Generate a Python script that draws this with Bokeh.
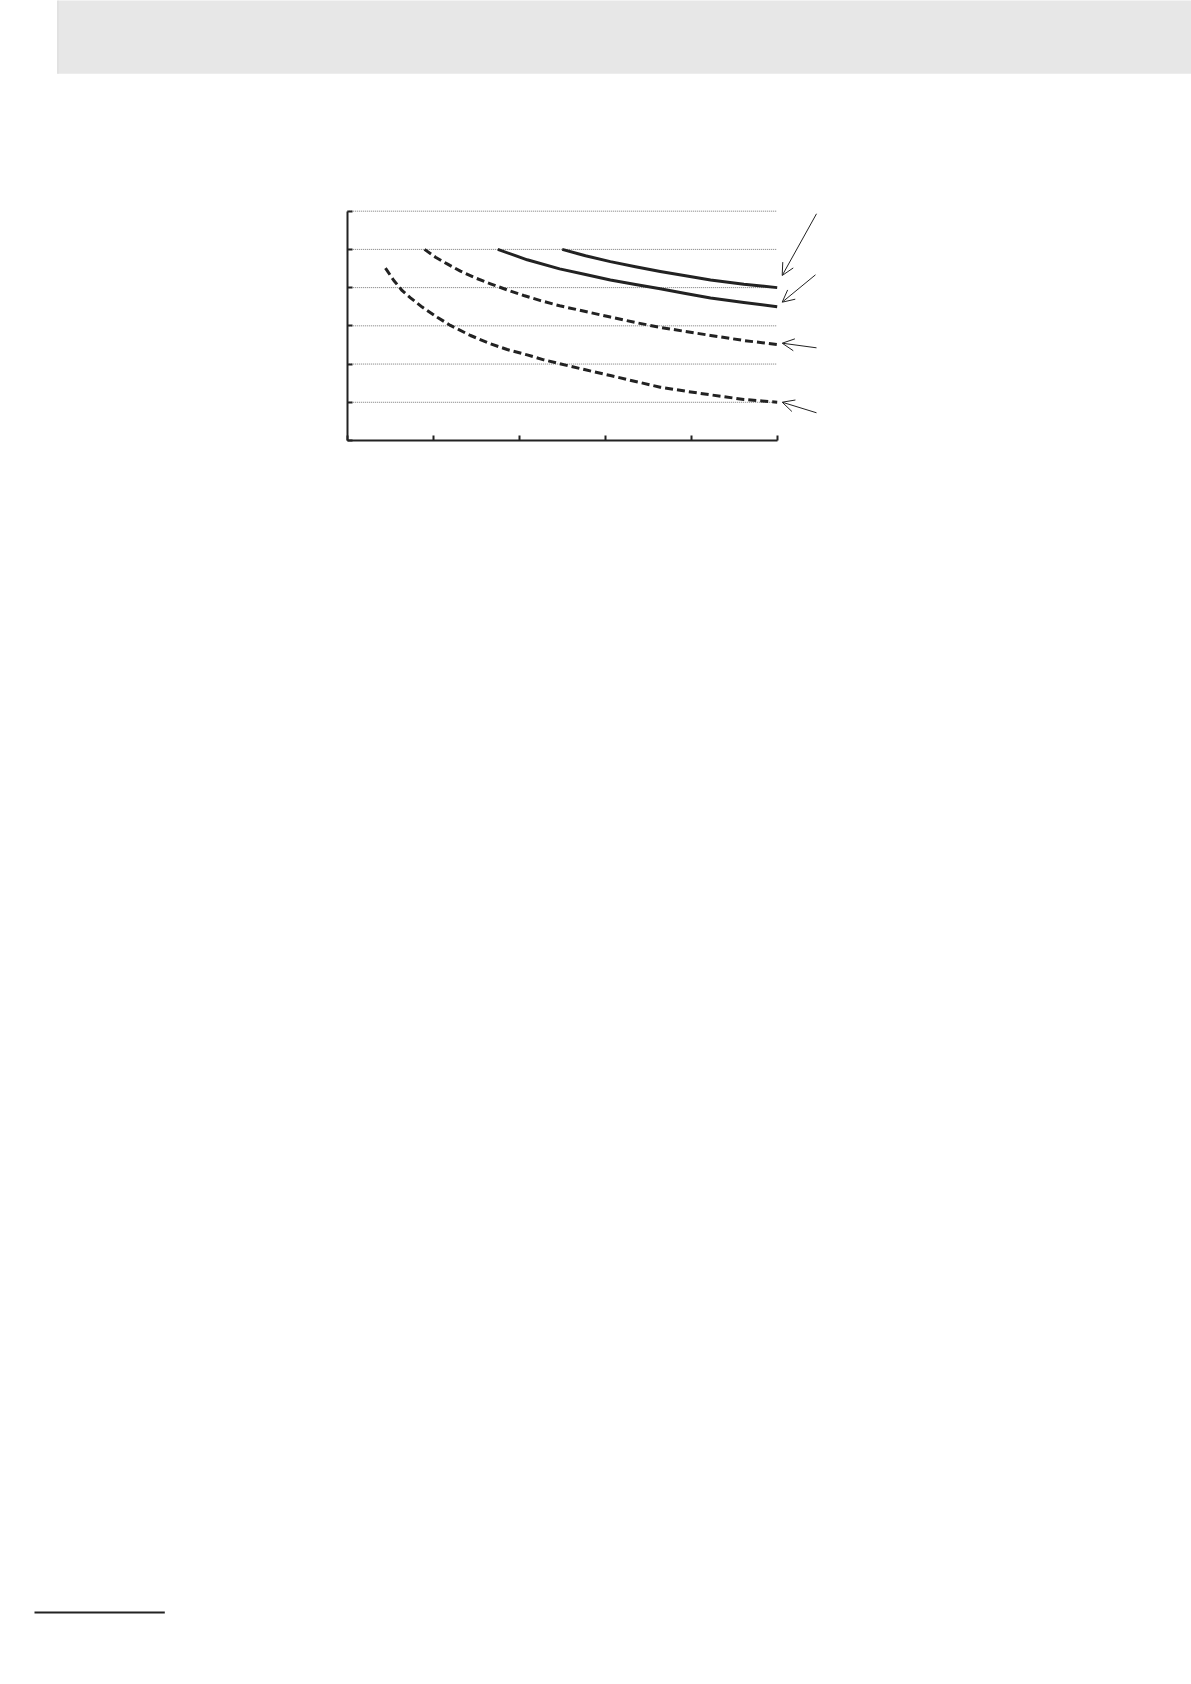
from bokeh.plotting import figure
from bokeh.models import ColumnDataSource, Arrow, OpenHead, FixedTicker, Range1d
from bokeh.embed import file_html
from bokeh.resources import INLINE

# ---------------- data ----------------
x_ticks = [0, 1, 2, 3, 4, 5]
y_ticks = [0, 1, 2, 3, 4, 5, 6]
grid_levels = [1, 2, 3, 4, 5, 6]

dash_low_x = [0.445, 0.542, 0.64, 0.736, 0.872, 1.047, 1.20, 1.434, 1.666, 1.860,
              2.093, 2.286, 2.47, 2.771, 3.06, 3.352, 3.64, 3.934, 4.225, 4.612, 5.0]
dash_low_y = [4.51, 4.186, 3.92, 3.733, 3.49, 3.227, 3.01, 2.747, 2.53, 2.381,
              2.24, 2.111, 2.01, 1.849, 1.70, 1.544, 1.395, 1.290, 1.195, 1.073, 1.0]

dash_high_x = [0.899, 1.027, 1.163, 1.317, 1.472, 1.666, 1.86, 2.053, 2.248, 2.47,
               2.771, 3.06, 3.352, 3.64, 3.934, 4.225, 4.612, 5.0]
dash_high_y = [5.0, 4.796, 4.62, 4.43, 4.27, 4.10, 3.94, 3.794, 3.66, 3.525,
               3.375, 3.23, 3.087, 2.96, 2.852, 2.75, 2.616, 2.51]

solid_low_x = [1.751, 2.093, 2.47, 2.771, 3.06, 3.352, 3.64, 3.934, 4.225, 4.612, 5.0]
solid_low_y = [5.0, 4.728, 4.49, 4.343, 4.20, 4.082, 3.97, 3.846, 3.73, 3.611, 3.5]

solid_high_x = [2.5, 2.771, 3.06, 3.352, 3.64, 3.934, 4.225, 4.612, 5.0]
solid_high_y = [5.0, 4.832, 4.68, 4.544, 4.42, 4.308, 4.20, 4.09, 4.0]

# pointer arrows (tail -> head), in chart units
arrow_x_start = [5.457, 5.445, 5.457, 5.457]
arrow_y_start = [5.932, 4.335, 2.425, 0.725]
arrow_x_end = [5.058, 5.058, 5.058, 5.058]
arrow_y_end = [4.317, 3.619, 2.546, 1.002]

# ---------------- page geometry ----------------
W, H = 1191, 1676
OFF = 0
X0_PX, X_PX_PER_UNIT = 346.7, 86.0
Y0_PX, Y_PX_PER_UNIT = 440.0, 38.22


def px_to_x(px):
    return (px - X0_PX) / X_PX_PER_UNIT


def py_to_y(py):
    return (Y0_PX - py) / Y_PX_PER_UNIT


p = figure(width=W, height=H, output_backend="svg", toolbar_location=None,
           x_range=Range1d(px_to_x(OFF), px_to_x(OFF + W)),
           y_range=Range1d(py_to_y(OFF + H), py_to_y(OFF)),
           min_border=0, outline_line_color=None,
           background_fill_color="white", border_fill_color="white")
p.grid.visible = False

INK = "#222222"

# header band
p.quad(left=[px_to_x(57.3)], right=[px_to_x(OFF + W + 20)],
       bottom=[py_to_y(73.3)], top=[py_to_y(-10)],
       fill_color="#e7e7e7", line_color=None)
p.segment(x0=[px_to_x(57.3)], x1=[px_to_x(57.3)], y0=[py_to_y(73.3)], y1=[py_to_y(-10)],
          line_color="#d6d6d6", line_width=1)

# footer rule
p.segment(x0=[px_to_x(34)], x1=[px_to_x(164.3)], y0=[py_to_y(1612)], y1=[py_to_y(1612)],
          line_color=INK, line_width=2)

# dotted gridlines limited to the plot area
p.segment(x0=[0] * len(grid_levels), x1=[5] * len(grid_levels),
          y0=grid_levels, y1=grid_levels,
          line_color="#777777", line_width=1, line_dash="1 1")

# curves
p.line(dash_low_x, dash_low_y, line_color=INK, line_width=3, line_dash="8 4", line_join="round")
p.line(dash_high_x, dash_high_y, line_color=INK, line_width=3, line_dash="8 4", line_join="round")
p.line(solid_low_x, solid_low_y, line_color=INK, line_width=3, line_join="round")
p.line(solid_high_x, solid_high_y, line_color=INK, line_width=3, line_join="round")

# arrows
asrc = ColumnDataSource(dict(x0=arrow_x_start, y0=arrow_y_start, x1=arrow_x_end, y1=arrow_y_end))
p.add_layout(Arrow(source=asrc, x_start="x0", y_start="y0", x_end="x1", y_end="y1",
                   line_color=INK, line_width=1,
                   end=OpenHead(size=12, line_color=INK, line_width=1)))

# axes drawn at the chart origin
for ax, ticks, bnd in ((p.xaxis[0], x_ticks, (0, 5)), (p.yaxis[0], y_ticks, (0, 6))):
    ax.fixed_location = 0
    ax.bounds = bnd
    ax.ticker = FixedTicker(ticks=ticks)
    ax.major_label_overrides = {t: "" for t in ticks}
    ax.major_tick_in = 5
    ax.major_tick_out = 0
    ax.minor_tick_in = 0
    ax.minor_tick_out = 0
    ax.axis_line_color = INK
    ax.axis_line_width = 2
    ax.major_tick_line_color = INK
    ax.major_tick_line_width = 2

open("out.html", "w").write(file_html(p, INLINE))
